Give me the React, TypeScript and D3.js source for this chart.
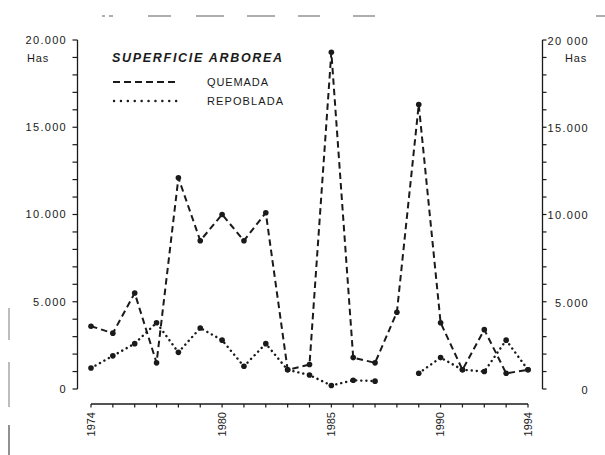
import React from 'react';
import * as d3 from 'd3';

const years = [1974, 1975, 1976, 1977, 1978, 1979, 1980, 1981, 1982, 1983, 1984, 1985, 1986, 1987, 1988, 1989, 1990, 1991, 1992, 1993, 1994];
const quemada: (number | null)[] = [3600, 3200, 5500, 1500, 12100, 8500, 10000, 8500, 10100, 1100, 1400, 19300, 1800, 1500, 4400, 16300, 3800, 1100, 3400, 900, 1100];
const repoblada: (number | null)[] = [1200, 1900, 2600, 3800, 2100, 3500, 2800, 1300, 2600, 1100, 800, 200, 500, 450, null, 900, 1800, 1100, 1000, 2800, 1100];
const yearLabels = [1974, 1980, 1985, 1990, 1994];
const majorTicks = [0, 5000, 10000, 15000, 20000];
const leftLabels = ['0', '5.000', '10.000', '15.000', '20.000'];
const rightLabels = ['0', '5.000', '10.000', '15.000', '20 000'];
const unitLabel = 'Has';
const title = 'SUPERFICIE ARBOREA';
const seriesNames = ['QUEMADA', 'REPOBLADA'];

const FONT = '"Liberation Sans", Arial, Helvetica, sans-serif';
const INK = '#1a1a1a';

export default function App() {
  const x = d3.scaleLinear().domain([1974, 1994]).range([91, 528]);
  const y = d3.scaleLinear().domain([0, 20000]).range([389, 40]);
  const minorTicks = d3.range(0, 20001, 1000);

  const mk = (vals: (number | null)[]) =>
    d3
      .line<number | null>()
      .defined((d) => d !== null)
      .x((_, i) => x(years[i]))
      .y((d) => y(d as number))(vals) || '';

  const dashed = '6.5 4';
  const dotted = '0.1 5';
  const leftX = 77.5;
  const rightX = 542.5;
  const axisY = 404;

  // scan artifacts along the top and left edge
  const topMarks: [number, number][] = [[102, 105], [109, 113], [148, 171], [196, 224], [247, 275], [298, 320], [353, 375], [596, 605]];
  const leftMarks: [number, number][] = [[308, 340], [362, 407], [425, 455]];

  return (
    <svg width={605} height={455} style={{ position: 'absolute', left: 0, top: 0, background: '#fff' }} fontFamily={FONT}>
      <rect width={605} height={455} fill="#fff" />
      {topMarks.map(([a, b], i) => (
        <line key={'t' + i} x1={a} x2={b} y1={16} y2={16} stroke="#9a9a9a" strokeWidth={1.6} />
      ))}
      {leftMarks.map(([a, b], i) => (
        <line key={'l' + i} x1={9} x2={9} y1={a} y2={b} stroke={i === 2 ? '#555' : '#9a9a9a'} strokeWidth={1.3} />
      ))}

      {/* left axis */}
      <line x1={leftX} x2={leftX} y1={y(20000)} y2={y(0)} stroke={INK} strokeWidth={1.3} />
      {minorTicks.map((t) => (
        <line key={'lt' + t} x1={leftX - 5} x2={leftX} y1={y(t)} y2={y(t)} stroke={INK} strokeWidth={1.2} />
      ))}
      {majorTicks.map((t, i) => (
        <text key={'ll' + t} x={67} y={y(t)} dy="0.35em" textAnchor="end" fontSize={11} letterSpacing={1.3} fill={INK}>
          {leftLabels[i]}
        </text>
      ))}
      <text x={27} y={58} dy="0.35em" fontSize={11} letterSpacing={0.8} fill={INK}>{unitLabel}</text>

      {/* right axis */}
      <line x1={rightX} x2={rightX} y1={y(20000)} y2={y(0)} stroke={INK} strokeWidth={1.3} />
      {minorTicks.map((t) => (
        <line key={'rt' + t} x1={rightX} x2={rightX + 4} y1={y(t)} y2={y(t)} stroke={INK} strokeWidth={1.2} />
      ))}
      {majorTicks.map((t, i) => (
        <text key={'rl' + t} x={589} y={y(t) + 1} dy="0.35em" textAnchor="end" fontSize={11} letterSpacing={1.3} fill={INK}>
          {rightLabels[i]}
        </text>
      ))}
      <text x={587} y={58} dy="0.35em" textAnchor="end" fontSize={11} letterSpacing={0.8} fill={INK}>{unitLabel}</text>

      {/* x axis */}
      <line x1={x(1974)} x2={x(1994)} y1={axisY} y2={axisY} stroke={INK} strokeWidth={1.3} />
      {years.map((yr) => (
        <line key={'xt' + yr} x1={x(yr)} x2={x(yr)} y1={axisY} y2={axisY + 3.5} stroke={INK} strokeWidth={1.2} />
      ))}
      {yearLabels.map((yr) => (
        <text key={'xl' + yr} transform={`translate(${x(yr)},412) rotate(-90)`} dy="0.35em" textAnchor="end" fontSize={11} fill={INK}>
          {yr}
        </text>
      ))}

      {/* series */}
      <path d={mk(quemada)} fill="none" stroke={INK} strokeWidth={2} strokeDasharray={dashed} />
      <path d={mk(repoblada)} fill="none" stroke={INK} strokeWidth={2.4} strokeDasharray={dotted} strokeLinecap="round" />
      {quemada.map((v, i) =>
        v === null ? null : <circle key={'qp' + i} cx={x(years[i])} cy={y(v)} r={2.8} fill={INK} />
      )}
      {repoblada.map((v, i) =>
        v === null ? null : <circle key={'rp' + i} cx={x(years[i])} cy={y(v)} r={2.8} fill={INK} />
      )}

      {/* legend */}
      <text x={112} y={61.5} fontSize={12.5} fontStyle="italic" fontWeight="bold" letterSpacing={1.7} fill={INK}>{title}</text>
      <line x1={113} x2={177} y1={82} y2={82} stroke={INK} strokeWidth={1.8} strokeDasharray="7 4" />
      <line x1={114} x2={177} y1={101} y2={101} stroke={INK} strokeWidth={2.4} strokeDasharray="0.1 6.8" strokeLinecap="round" />
      <text x={207} y={82} dy="0.35em" fontSize={11} letterSpacing={0.9} fill={INK}>{seriesNames[0]}</text>
      <text x={207} y={101} dy="0.35em" fontSize={11} letterSpacing={1.1} fill={INK}>{seriesNames[1]}</text>
    </svg>
  );
}
